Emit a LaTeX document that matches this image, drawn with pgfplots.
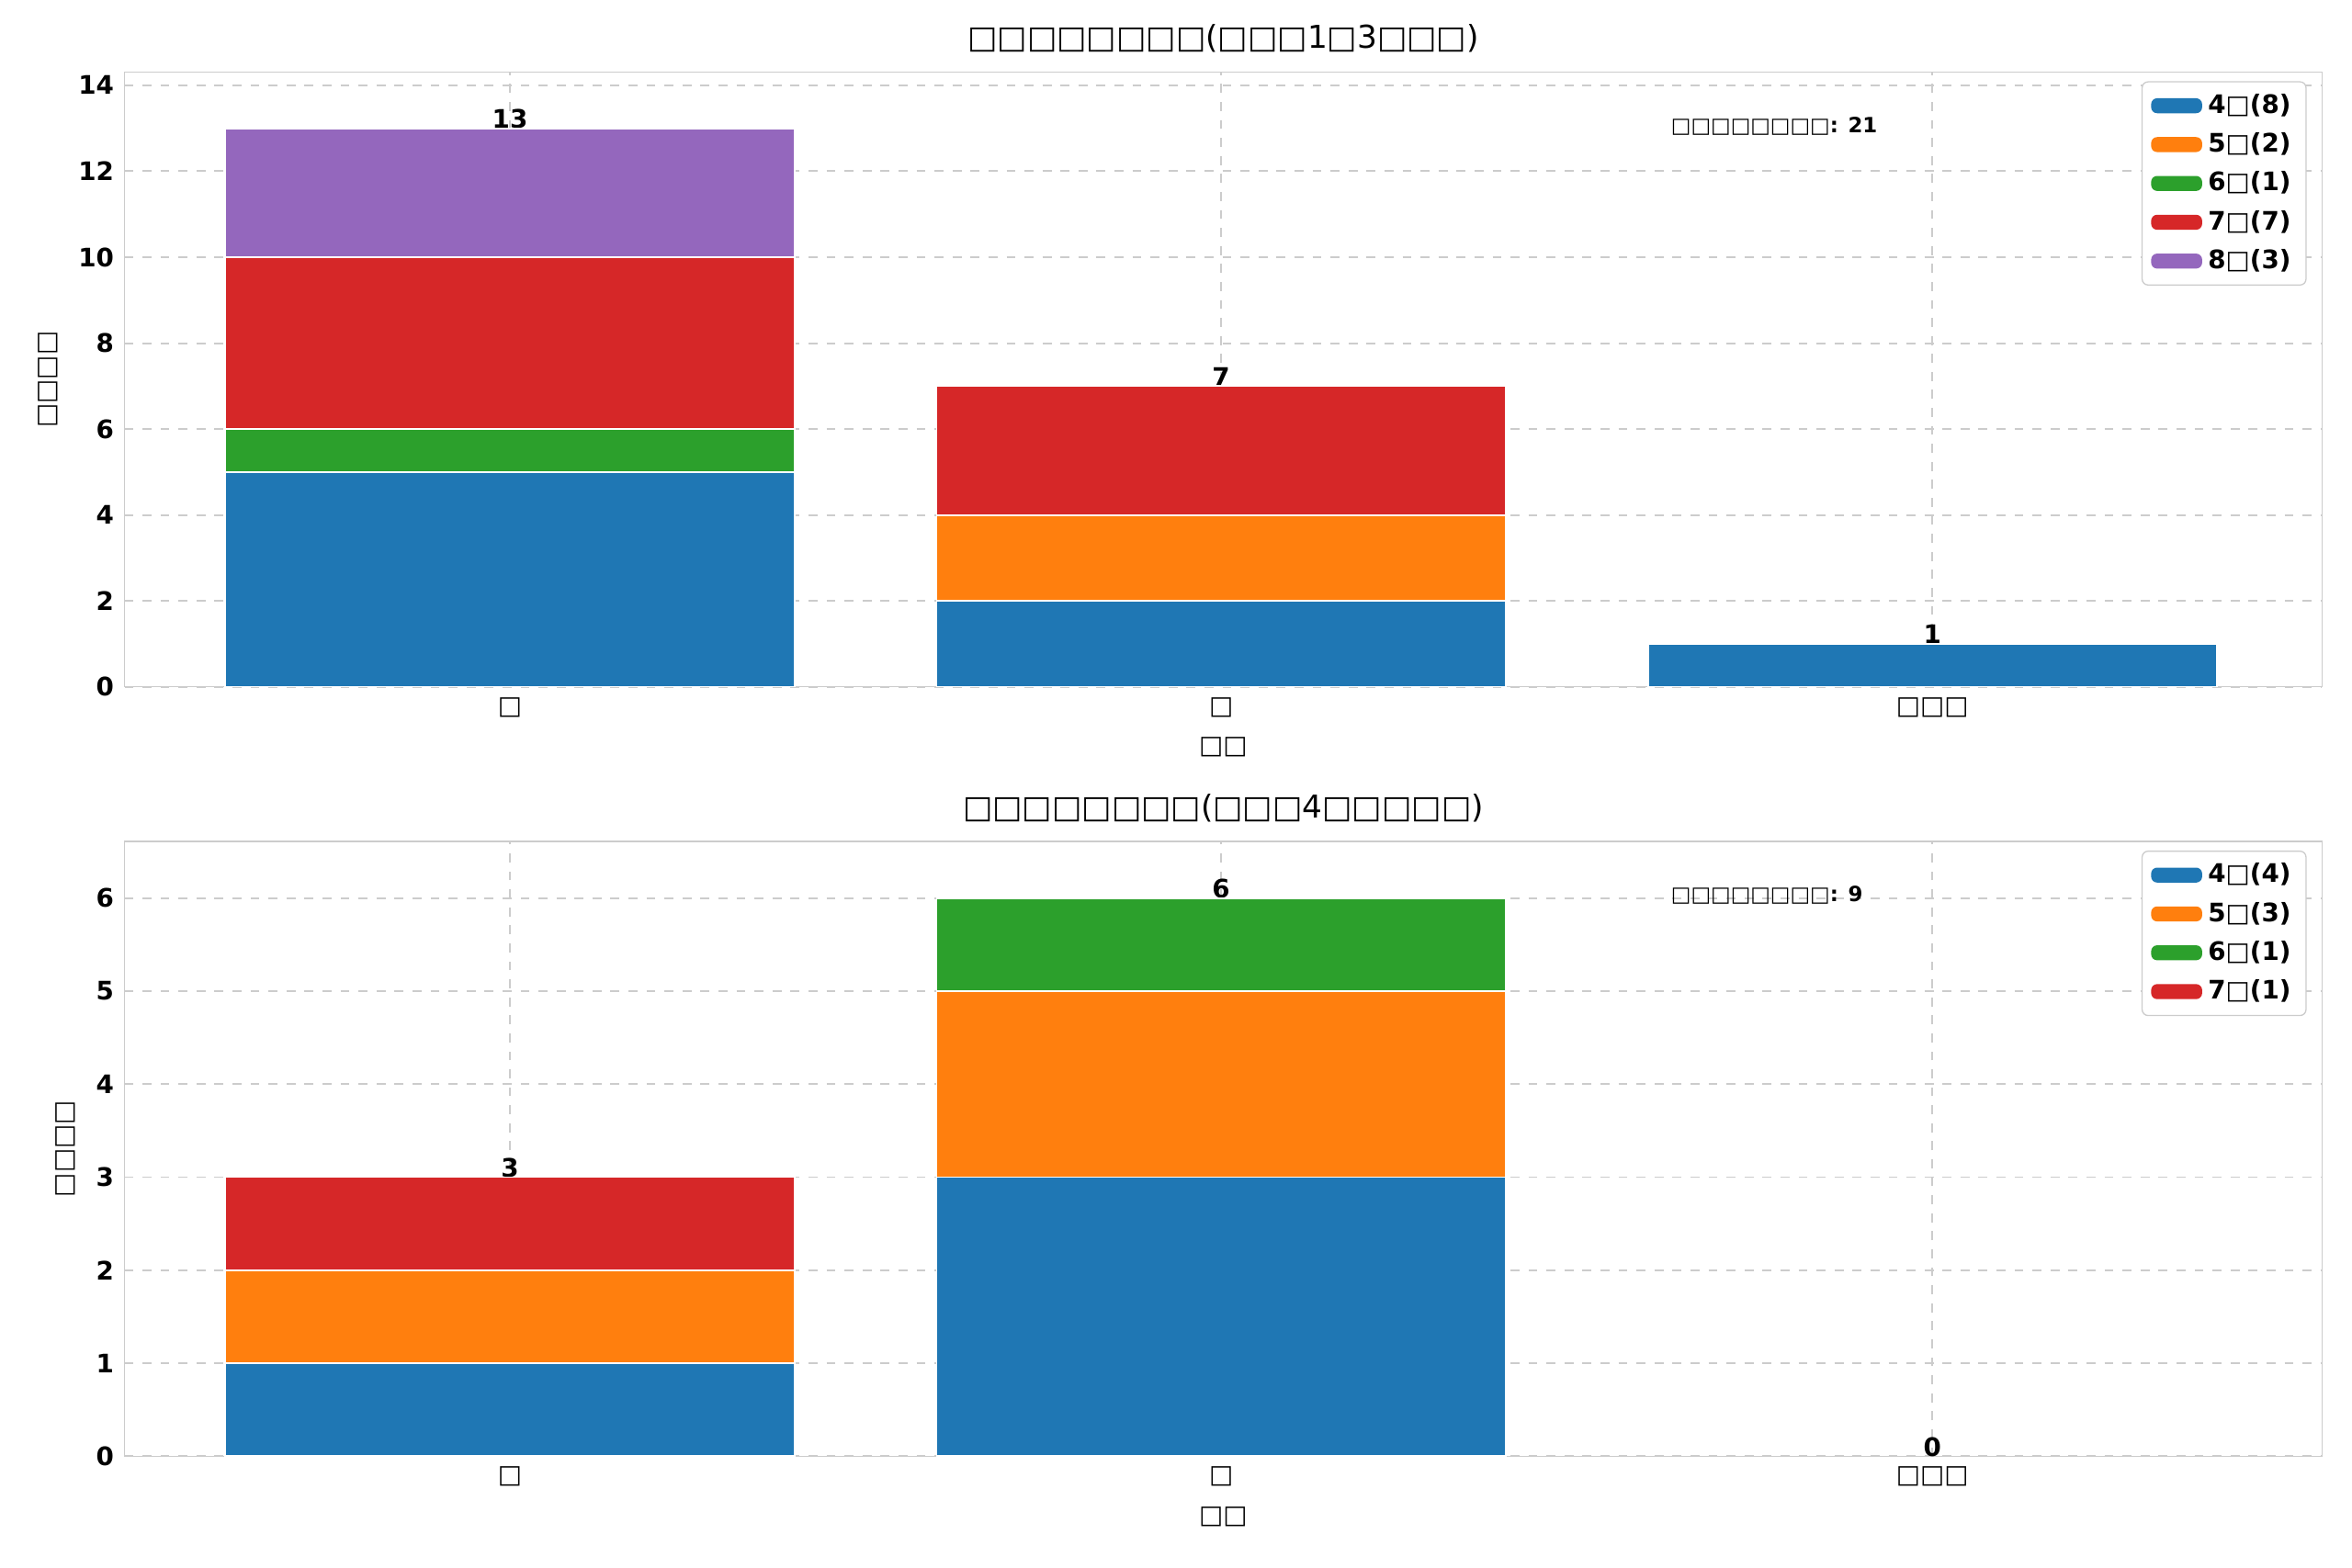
\documentclass[border=0pt]{standalone}
\usepackage{pgfplots}
\pgfplotsset{compat=1.18}
\usepackage{fontspec}
\setmainfont{DejaVu Sans}
\definecolor{tb}{HTML}{1F77B4}
\definecolor{to}{HTML}{FF7F0E}
\definecolor{tg}{HTML}{2CA02C}
\definecolor{tr}{HTML}{D62728}
\definecolor{tp}{HTML}{9467BD}
\definecolor{gr}{HTML}{CCCCCC}
\newcommand{\B}{□}
\pgfplotsset{
  myax/.style={
    width=732.5pt, height=205pt, scale only axis,
    ybar stacked, bar width=0.8,
    xmin=-0.542, xmax=2.548, ymin=0,
    xtick={0,1,2}, xticklabels={\B,\B,\B\B\B},
    axis line style={gr}, major tick length=0pt,
    grid=major, grid style={dashed,gr,line width=0.6pt},
    tick label style={font=\fontsize{8.5}{10}\selectfont\bfseries},
    /pgf/number format/assume math mode=true,
    xticklabel style={font=\fontsize{8.5}{10}\selectfont},
    xlabel={\B\B}, ylabel={\B\B\B\B},
    label style={font=\fontsize{8.5}{10}\selectfont},
    title style={font=\fontsize{10.5}{12}\selectfont, yshift=-3pt},
    every axis plot/.append style={draw=white, line width=0.6pt},
    legend style={at={(0.993,0.985)}, anchor=north east, draw=gr, rounded corners=2pt,
      font=\fontsize{8.5}{10}\selectfont\bfseries, row sep=1pt},
    legend cell align=left,
    area legend,
    legend image code/.code={\fill[#1,draw=none] (0pt,-2.5pt) rectangle (17pt,2.5pt);},
    axis on top=false,
  }
}
\begin{document}
\begin{tikzpicture}
\useasboundingbox (-41.5pt,-293.5pt) rectangle (742.5pt,229pt);
\begin{axis}[myax, at={(0,0)}, anchor=south west, ymax=14.31,
  ytick={0,2,...,14}, title={\B\B\B\B\B\B\B\B(\B\B\B1\B3\B\B\B)}]
\addplot[fill=tb] coordinates {(0,5) (1,2) (2,1)};
\addplot[fill=to] coordinates {(0,0) (1,2) (2,0)};
\addplot[fill=tg] coordinates {(0,1) (1,0) (2,0)};
\addplot[fill=tr] coordinates {(0,4) (1,3) (2,0)};
\addplot[fill=tp] coordinates {(0,3) (1,0) (2,0)};
\legend{4\B(8),5\B(2),6\B(1),7\B(7),8\B(3)}
\node[font=\fontsize{8.5}{10}\selectfont\bfseries,anchor=base] at (axis cs:0,13) {13};
\node[font=\fontsize{8.5}{10}\selectfont\bfseries,anchor=base] at (axis cs:1,7) {7};
\node[font=\fontsize{8.5}{10}\selectfont\bfseries,anchor=base] at (axis cs:2,1) {1};
\node[font=\fontsize{7}{8}\selectfont\bfseries,anchor=west] at (rel axis cs:0.699,0.912) {\B\B\B\B\B\B\B\B: 21};
\end{axis}
\begin{axis}[myax, at={(0,-256.5pt)}, anchor=south west, ymax=6.61,
  ytick={0,1,...,6}, title={\B\B\B\B\B\B\B\B(\B\B\B4\B\B\B\B\B)}]
\addplot[fill=tb] coordinates {(0,1) (1,3) (2,0)};
\addplot[fill=to] coordinates {(0,1) (1,2) (2,0)};
\addplot[fill=tg] coordinates {(0,0) (1,1) (2,0)};
\addplot[fill=tr] coordinates {(0,1) (1,0) (2,0)};
\legend{4\B(4),5\B(3),6\B(1),7\B(1)}
\node[font=\fontsize{8.5}{10}\selectfont\bfseries,anchor=base] at (axis cs:0,3) {3};
\node[font=\fontsize{8.5}{10}\selectfont\bfseries,anchor=base] at (axis cs:1,6) {6};
\node[font=\fontsize{8.5}{10}\selectfont\bfseries,anchor=base] at (axis cs:2,0) {0};
\node[font=\fontsize{7}{8}\selectfont\bfseries,anchor=west] at (rel axis cs:0.699,0.912) {\B\B\B\B\B\B\B\B: 9};
\end{axis}
\end{tikzpicture}
\end{document}
